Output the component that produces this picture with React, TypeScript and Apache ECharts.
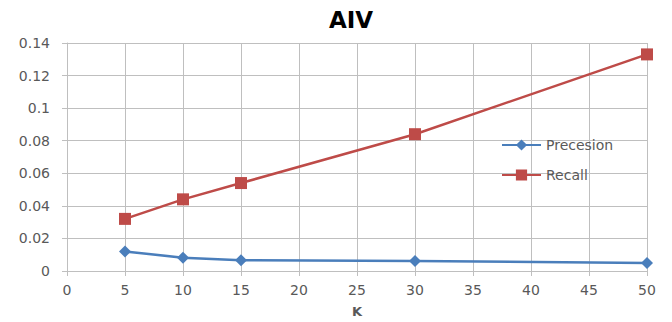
import React, { useEffect, useRef } from "react";
import * as echarts from "echarts";

// K values on the horizontal axis
const kValues = [5, 10, 15, 30, 50];
// Precision and recall measured at each K
const precisionValues = [0.012, 0.0082, 0.0066, 0.0062, 0.0049];
const recallValues = [0.032, 0.044, 0.054, 0.084, 0.133];
const seriesNames = ["Precesion", "Recall"];

const FONT = "DejaVu Sans";
const GRID_COLOR = "#bfbfbf";
const LABEL_COLOR = "#595959";

export default function App() {
  const ref = useRef<HTMLDivElement>(null);

  useEffect(() => {
    if (!ref.current) return;
    const chart = echarts.init(ref.current, undefined, { renderer: "svg" });
    chart.setOption({
      animation: false,
      backgroundColor: "#ffffff",
      title: {
        text: "AIV",
        left: 346,
        top: 3,
        textAlign: "center",
        textStyle: { fontFamily: FONT, fontSize: 23, fontWeight: "bold", color: "#000000" },
      },
      legend: {
        orient: "vertical",
        left: 501,
        top: 138,
        padding: 0,
        itemWidth: 39,
        itemHeight: 14,
        itemGap: 16,
        textStyle: { fontFamily: FONT, fontSize: 14, color: LABEL_COLOR },
        data: seriesNames,
      },
      grid: { left: 67, right: 25, top: 43, bottom: 51, outerBoundsMode: "none" },
      xAxis: {
        type: "value",
        min: 0,
        max: 50,
        interval: 5,
        name: "K",
        nameLocation: "middle",
        nameGap: 34,
        nameTextStyle: { fontFamily: FONT, fontSize: 13, fontWeight: "bold", color: LABEL_COLOR },
        axisLine: { show: true, lineStyle: { color: GRID_COLOR, width: 1 } },
        axisTick: { show: true, length: 5, lineStyle: { color: GRID_COLOR } },
        axisLabel: { fontFamily: FONT, fontSize: 14, color: LABEL_COLOR, margin: 12 },
        splitLine: { show: true, lineStyle: { color: GRID_COLOR, width: 1 } },
      },
      yAxis: {
        type: "value",
        min: 0,
        max: 0.14,
        interval: 0.02,
        axisLine: { show: true, lineStyle: { color: GRID_COLOR, width: 1 } },
        axisTick: { show: true, length: 5, lineStyle: { color: GRID_COLOR } },
        axisLabel: { fontFamily: FONT, fontSize: 14, color: LABEL_COLOR, margin: 17 },
        splitLine: { show: true, lineStyle: { color: GRID_COLOR, width: 1 } },
      },
      series: [
        {
          name: seriesNames[0],
          type: "line",
          data: kValues.map((k, i) => [k, precisionValues[i]]),
          symbol: "diamond",
          symbolSize: 12,
          color: "#4a7ebb",
          lineStyle: { width: 2.5, color: "#4a7ebb" },
          itemStyle: { color: "#4a7ebb" },
        },
        {
          name: seriesNames[1],
          type: "line",
          data: kValues.map((k, i) => [k, recallValues[i]]),
          symbol: "rect",
          symbolSize: 12,
          color: "#be4b48",
          lineStyle: { width: 2.5, color: "#be4b48" },
          itemStyle: { color: "#be4b48" },
        },
      ],
    });
    return () => chart.dispose();
  }, []);

  return (
    <div
      ref={ref}
      style={{ position: "fixed", left: 0, top: 0, width: 672, height: 322, background: "#fff" }}
    />
  );
}
